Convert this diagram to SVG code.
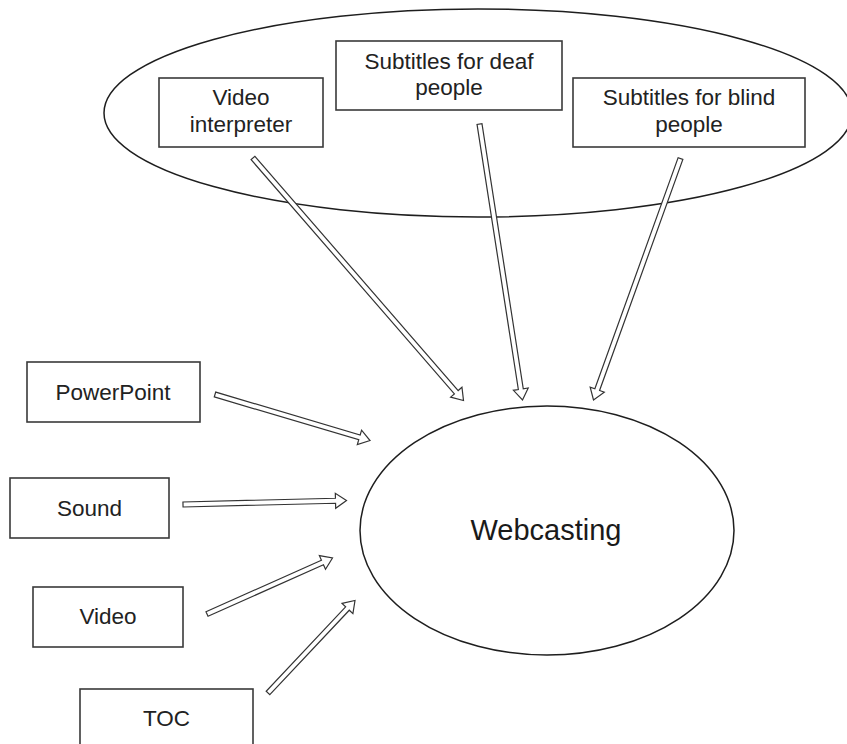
<svg xmlns="http://www.w3.org/2000/svg" width="847" height="744" viewBox="0 0 847 744">
<style>
.bg{fill:#ffffff}
.box{fill:#ffffff;stroke:#3a3a3a;stroke-width:1.6}
.ell{fill:none;stroke:#1e1e1e;stroke-width:1.5}
.ellw{fill:#ffffff;stroke:#1e1e1e;stroke-width:1.5}
.lbl{font-family:"Liberation Sans",Arial,sans-serif;font-size:22.5px;fill:#222222;text-anchor:middle}
.big{font-family:"Liberation Sans",Arial,sans-serif;font-size:29px;fill:#1a1a1a;text-anchor:middle}
.arr{fill:#ffffff;stroke:#333333;stroke-width:1.2;stroke-linejoin:miter}
</style>
<rect class="bg" x="0" y="0" width="847" height="744"/>
<g id="group-accessibility">
<ellipse class="ell" cx="478" cy="113" rx="374" ry="104"/>
</g>
<g id="node-video-interpreter">
<rect class="box" x="159" y="78" width="164" height="69"/>
<text class="lbl" x="241" y="105">Video</text>
<text class="lbl" x="241" y="131.5">interpreter</text>
</g>
<g id="node-subtitles-deaf">
<rect class="box" x="336" y="41" width="226" height="69"/>
<text class="lbl" x="449" y="68.5">Subtitles for deaf</text>
<text class="lbl" x="449" y="95">people</text>
</g>
<g id="node-subtitles-blind">
<rect class="box" x="573" y="78" width="232" height="69"/>
<text class="lbl" x="689" y="104.5">Subtitles for blind</text>
<text class="lbl" x="689" y="131.5">people</text>
</g>
<g id="node-powerpoint">
<rect class="box" x="27" y="362" width="173" height="60"/>
<text class="lbl" x="113" y="399.5">PowerPoint</text>
</g>
<g id="node-sound">
<rect class="box" x="10" y="478" width="159" height="60"/>
<text class="lbl" x="89.5" y="515.5">Sound</text>
</g>
<g id="node-video">
<rect class="box" x="33" y="587" width="150" height="60"/>
<text class="lbl" x="108" y="624">Video</text>
</g>
<g id="node-toc">
<rect class="box" x="80" y="689" width="173" height="60"/>
<text class="lbl" x="166.5" y="725.5">TOC</text>
</g>
<g id="node-webcasting">
<ellipse class="ellw" cx="547" cy="530.5" rx="187" ry="124.5"/>
<text class="big" x="546" y="540">Webcasting</text>
</g>
<g id="connectors">
<polygon class="arr" points="251.11,159.64 454.40,393.83 450.63,397.11 463.5,400.5 461.95,387.27 458.18,390.55 254.89,156.36"/>
<polygon class="arr" points="477.03,124.39 518.34,389.52 513.40,390.29 522.5,400 528.22,387.98 523.28,388.75 481.97,123.62"/>
<polygon class="arr" points="678.15,157.65 594.88,388.80 590.17,387.11 593.5,400 604.29,392.19 599.58,390.50 682.85,159.35"/>
<polygon class="arr" points="214.29,396.90 358.75,439.77 357.33,444.56 370,440.5 361.59,430.18 360.17,434.97 215.71,392.10"/>
<polygon class="arr" points="183.06,507.00 335.56,503.27 335.68,508.27 346.5,500.5 335.32,493.27 335.44,498.27 182.94,502.00"/>
<polygon class="arr" points="208.02,616.28 323.47,564.76 325.51,569.33 332.5,558 319.39,555.63 321.43,560.20 205.98,611.72"/>
<polygon class="arr" points="269.82,694.71 349.28,610.22 352.92,613.65 355,600.5 342.00,603.37 345.64,606.80 266.18,691.29"/>
</g>
</svg>
